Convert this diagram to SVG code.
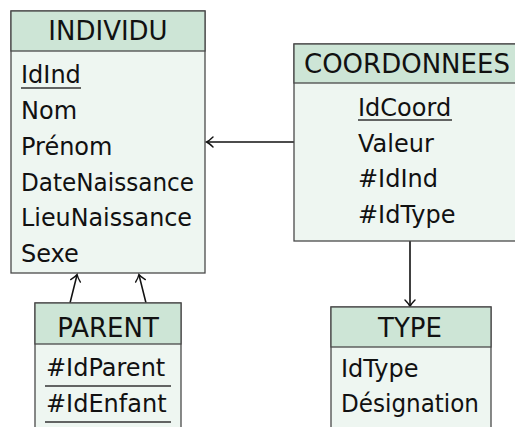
<svg xmlns="http://www.w3.org/2000/svg" width="515" height="427" viewBox="0 0 515 427">
  <style>
    .box { fill: #eef6f1; stroke: #4a4a4a; stroke-width: 1.3; }
    .head { fill: #cde5d6; stroke: #4a4a4a; stroke-width: 1.3; }
    .t { font-family: "DejaVu Sans", sans-serif; font-size: 24px; fill: #111; }
    .h { font-family: "DejaVu Sans", sans-serif; font-size: 26px; fill: #111; text-anchor: middle; }
    .ul { stroke: #333; stroke-width: 1.3; }
    .conn { stroke: #111; stroke-width: 1.6; fill: none; }
  </style>
  <defs>
    <marker id="to" viewBox="-7 -7 9 14" markerWidth="9" markerHeight="14" refX="0" refY="0" orient="auto" markerUnits="userSpaceOnUse">
      <path d="M -6 -5 Q -2 -1 0.5 0 Q -2 1 -6 5" fill="none" stroke="#111" stroke-width="1.4" stroke-linecap="round"/>
    </marker>
  </defs>

  <g id="connectors">
    <line class="conn" x1="294" y1="142" x2="207" y2="142" marker-end="url(#to)"/>
    <line class="conn" x1="410" y1="241" x2="410" y2="306" marker-end="url(#to)"/>
    <line class="conn" x1="70" y1="303" x2="77" y2="275" marker-end="url(#to)"/>
    <line class="conn" x1="146" y1="303" x2="139" y2="275" marker-end="url(#to)"/>
  </g>

  <g id="individu">
    <rect class="box" x="11" y="11" width="194" height="262"/>
    <rect class="head" x="11" y="11" width="194" height="40"/>
    <text class="h" x="108" y="40">INDIVIDU</text>
    <text class="t" x="21" y="83">IdInd</text>
    <line class="ul" x1="21" y1="88" x2="81" y2="88"/>
    <text class="t" x="21" y="119">Nom</text>
    <text class="t" x="21" y="155">Prénom</text>
    <text class="t" x="21" y="191" textLength="173" lengthAdjust="spacingAndGlyphs">DateNaissance</text>
    <text class="t" x="21" y="226" textLength="171" lengthAdjust="spacingAndGlyphs">LieuNaissance</text>
    <text class="t" x="21" y="262">Sexe</text>
  </g>

  <g id="coordonnees">
    <rect class="box" x="294" y="44" width="230" height="197"/>
    <rect class="head" x="294" y="44" width="230" height="39"/>
    <text class="h" x="304" y="73" style="text-anchor:start">COORDONNEES</text>
    <text class="t" x="358" y="116">IdCoord</text>
    <line class="ul" x1="358" y1="120" x2="452" y2="120"/>
    <text class="t" x="358" y="152">Valeur</text>
    <text class="t" x="358" y="187">#IdInd</text>
    <text class="t" x="358" y="223">#IdType</text>
  </g>

  <g id="parent">
    <rect class="box" x="35" y="303" width="146" height="140"/>
    <rect class="head" x="35" y="303" width="146" height="41"/>
    <text class="h" x="108" y="337">PARENT</text>
    <text class="t" x="46" y="376">#IdParent</text>
    <line class="ul" x1="45" y1="386" x2="171" y2="386"/>
    <text class="t" x="46" y="412">#IdEnfant</text>
    <line class="ul" x1="45" y1="422" x2="171" y2="422"/>
  </g>

  <g id="type">
    <rect class="box" x="331" y="307" width="160" height="140"/>
    <rect class="head" x="331" y="307" width="160" height="40"/>
    <text class="h" x="410" y="337">TYPE</text>
    <text class="t" x="341" y="377">IdType</text>
    <text class="t" x="341" y="412" textLength="138" lengthAdjust="spacingAndGlyphs">Désignation</text>
  </g>
</svg>
